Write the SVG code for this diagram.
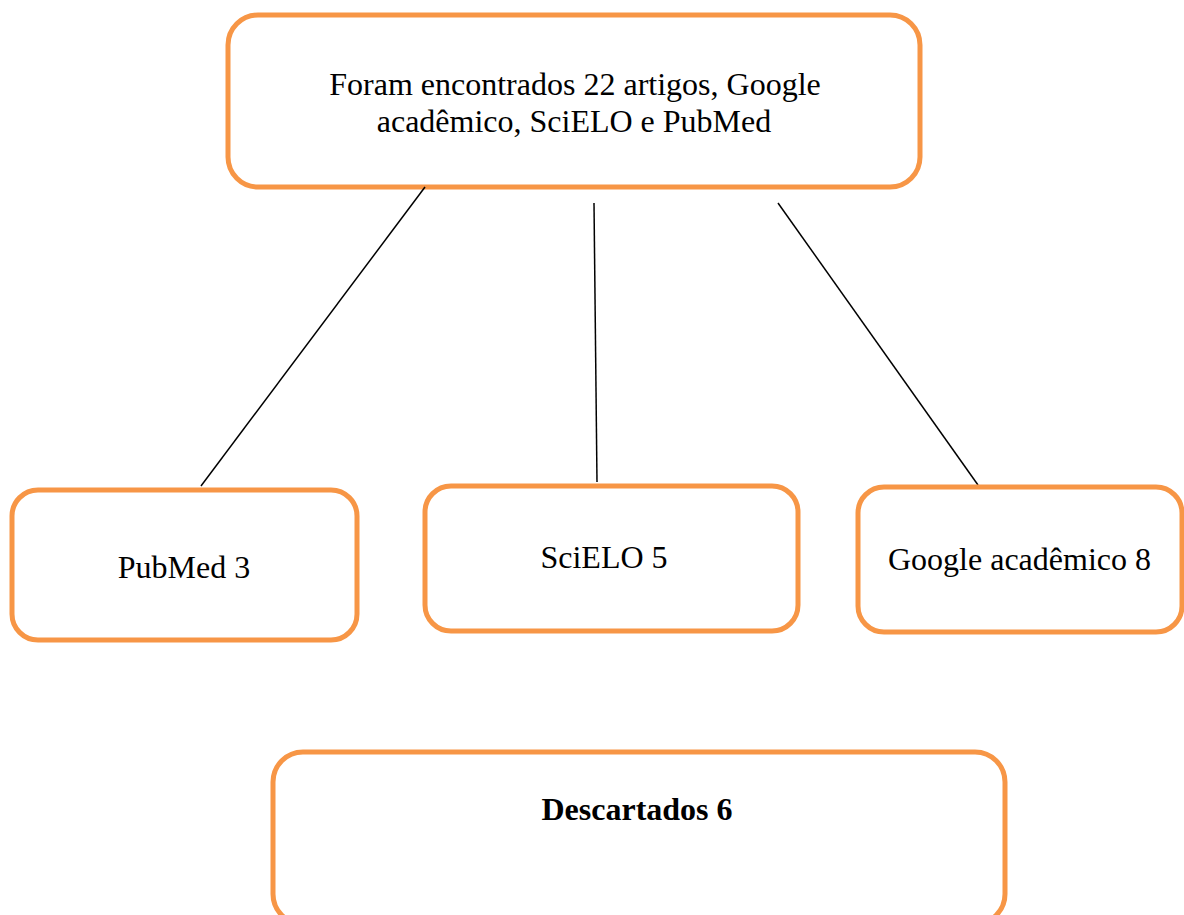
<svg xmlns="http://www.w3.org/2000/svg" width="1184" height="915" viewBox="0 0 1184 915">
<style>
.box{fill:#fff;stroke:#F79646;stroke-width:5}
.t{font-family:"Liberation Serif","Times New Roman",serif;font-size:32px;fill:#000}
.b{font-weight:bold}
.c{stroke:#000;stroke-width:1.5;fill:none}
</style>
<rect width="1184" height="915" fill="#fff"/>
<g id="top">
<rect class="box" x="228" y="15" width="692" height="172" rx="30"/>
<text class="t" x="575" y="95" text-anchor="middle">Foram encontrados 22 artigos, Google</text>
<text class="t" x="574" y="132" text-anchor="middle">acadêmico, SciELO e PubMed</text>
</g>
<g id="connectors">
<line class="c" x1="425" y1="187" x2="201" y2="486"/>
<line class="c" x1="594" y1="203" x2="597" y2="482"/>
<line class="c" x1="778" y1="203" x2="978" y2="485"/>
</g>
<g id="pubmed">
<rect class="box" x="12" y="490" width="345" height="150" rx="26"/>
<text class="t" x="184" y="578" text-anchor="middle">PubMed 3</text>
</g>
<g id="scielo">
<rect class="box" x="425" y="486" width="373" height="145" rx="26"/>
<text class="t" x="604" y="568" text-anchor="middle">SciELO 5</text>
</g>
<g id="google">
<rect class="box" x="858" y="487" width="324" height="145" rx="26"/>
<text class="t" x="888" y="570">Google acadêmico 8</text>
</g>
<g id="descartados">
<rect class="box" x="273" y="752" width="732" height="172" rx="30"/>
<text class="t b" x="637" y="820" text-anchor="middle">Descartados 6</text>
</g>
</svg>
